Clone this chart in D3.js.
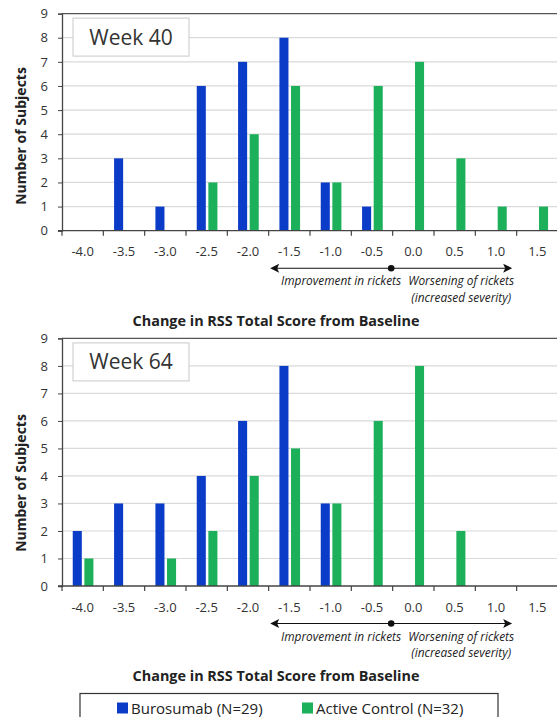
<!DOCTYPE html>
<html>
<head>
<meta charset="utf-8">
<script src="https://cdn.jsdelivr.net/npm/d3@7"></script>
<style>
  html, body { margin: 0; padding: 0; background: #fff; }
  svg { display: block; font-family: "Open Sans", "Noto Sans", sans-serif; }
</style>
</head>
<body>
<svg id="chart" width="557" height="717"></svg>
<script>
// Change in RSS total score categories (x axis)
const categories = ["-4.0", "-3.5", "-3.0", "-2.5", "-2.0", "-1.5", "-1.0", "-0.5", "0.0", "0.5", "1.0", "1.5"];
const yTicks = [0, 1, 2, 3, 4, 5, 6, 7, 8, 9];

// Number of subjects per category, Week 40
const week40Burosumab     = [0, 3, 1, 6, 7, 8, 2, 1, 0, 0, 0, 0];
const week40ActiveControl = [0, 0, 0, 2, 4, 6, 2, 6, 7, 3, 1, 1];

// Number of subjects per category, Week 64
const week64Burosumab     = [2, 3, 3, 4, 6, 8, 3, 0, 0, 0, 0, 0];
const week64ActiveControl = [1, 0, 1, 2, 4, 5, 3, 6, 8, 2, 0, 0];

const seriesNames = ["Burosumab (N=29)", "Active Control (N=32)"];
const seriesColors = ["#0b3cc8", "#1db05a"];

const svg = d3.select("#chart");

function drawPanel(cfg) {
  const { top, bottom, left, right, label, blue, green, labelCenterY } = cfg;
  const g = svg.append("g");

  const x = d3.scaleBand().domain(categories).range([left, right]).padding(0);
  const y = d3.scaleLinear().domain([0, 9]).range([bottom, top]);
  const bw = x.bandwidth();
  const xIn = d3.scaleBand().domain([0, 1])
    .range([bw * 0.26, bw * 0.76]).paddingInner(0.22);

  // horizontal gridlines
  g.append("g").selectAll("line")
    .data(yTicks.filter(d => d > 0 && d < 9))
    .join("line")
    .attr("x1", left).attr("x2", right + 5)
    .attr("y1", d => y(d)).attr("y2", d => y(d))
    .attr("stroke", "#dadada").attr("stroke-width", 1.2);

  // top frame line
  g.append("line")
    .attr("x1", left).attr("x2", right + 5)
    .attr("y1", y(9)).attr("y2", y(9))
    .attr("stroke", "#555").attr("stroke-width", 1.4);

  // bars
  const rows = categories.map((c, i) => ({ c, vals: [blue[i], green[i]] }));
  const grp = g.append("g").selectAll("g").data(rows).join("g")
    .attr("transform", d => `translate(${x(d.c)},0)`);
  grp.selectAll("rect")
    .data(d => d.vals.map((v, k) => ({ v, k })).filter(e => e.v > 0))
    .join("rect")
    .attr("x", d => xIn(d.k))
    .attr("width", xIn.bandwidth())
    .attr("y", d => y(d.v))
    .attr("height", d => y(0) - y(d.v))
    .attr("fill", d => seriesColors[d.k]);

  // y axis
  const yAxis = g.append("g")
    .attr("transform", `translate(${left},0)`)
    .call(d3.axisLeft(y).tickValues(yTicks).tickSize(4).tickPadding(10));
  yAxis.select(".domain").attr("stroke", "#444").attr("stroke-width", 1.3);
  yAxis.selectAll(".tick line").attr("stroke", "#444");
  yAxis.selectAll(".tick text")
    .attr("font-size", 13).attr("fill", "#333")
    .attr("font-family", "'Open Sans', sans-serif");

  // x axis: ticks at category boundaries, labels centred in each band
  const bounds = categories.map(c => x(c)).concat([right]);
  const xg = g.append("g");
  xg.append("line")
    .attr("x1", left - 4).attr("x2", right + 5)
    .attr("y1", y(0)).attr("y2", y(0))
    .attr("stroke", "#444").attr("stroke-width", 1.3);
  xg.selectAll("line.tk").data(bounds).join("line").attr("class", "tk")
    .attr("x1", d => d).attr("x2", d => d)
    .attr("y1", y(0)).attr("y2", y(0) + 5)
    .attr("stroke", "#444").attr("stroke-width", 1.2);
  xg.selectAll("text").data(categories).join("text")
    .attr("x", d => x(d) + bw / 2)
    .attr("y", y(0) + 25.5)
    .attr("text-anchor", "middle")
    .attr("font-size", 13).attr("fill", "#333")
    .text(d => d);

  // y axis title
  g.append("text")
    .attr("transform", `translate(25.5,${labelCenterY}) rotate(-90)`)
    .attr("text-anchor", "middle")
    .attr("font-size", 14).attr("font-weight", "bold").attr("fill", "#222")
    .text("Number of Subjects");

  // week label box
  g.append("rect")
    .attr("x", 73).attr("y", top + 4.5).attr("width", 116).attr("height", 38)
    .attr("fill", "#fff").attr("stroke", "#c9c9c9").attr("stroke-width", 1);
  g.append("text")
    .attr("x", 131).attr("y", top + 31)
    .attr("text-anchor", "middle")
    .attr("font-size", 21).attr("fill", "#333")
    .text(label);

  // direction arrow below the axis
  const ay = y(0) + 37.5;
  const ax0 = x("-1.5") + 1.5, ax1 = x("1.5") - 4.5, axMid = x("0.0") - 1.5;
  g.append("line")
    .attr("x1", ax0 + 6).attr("x2", ax1 - 6)
    .attr("y1", ay).attr("y2", ay)
    .attr("stroke", "#111").attr("stroke-width", 1.1);
  g.append("path")
    .attr("d", `M${ax0},${ay} L${ax0 + 9},${ay - 4.5} L${ax0 + 7},${ay} L${ax0 + 9},${ay + 4.5} Z`)
    .attr("fill", "#111");
  g.append("path")
    .attr("d", `M${ax1},${ay} L${ax1 - 9},${ay - 4.5} L${ax1 - 7},${ay} L${ax1 - 9},${ay + 4.5} Z`)
    .attr("fill", "#111");
  g.append("circle").attr("cx", axMid).attr("cy", ay).attr("r", 3.3).attr("fill", "#111");

  g.append("text")
    .attr("x", axMid + 10).attr("y", ay + 17)
    .attr("text-anchor", "end")
    .attr("font-size", 11.9).attr("font-style", "italic").attr("fill", "#222")
    .text("Improvement in rickets");
  g.append("text")
    .attr("x", ax1 + 2).attr("y", ay + 17)
    .attr("text-anchor", "end")
    .attr("font-size", 11.9).attr("font-style", "italic").attr("fill", "#222")
    .text("Worsening of rickets");
  g.append("text")
    .attr("x", ax1 - 1).attr("y", ay + 33.5)
    .attr("text-anchor", "end")
    .attr("font-size", 11.9).attr("font-style", "italic").attr("fill", "#222")
    .text("(increased severity)");

  // x axis title
  g.append("text")
    .attr("x", 276).attr("y", ay + 57.5)
    .attr("text-anchor", "middle")
    .attr("font-size", 14.4).attr("font-weight", "bold").attr("fill", "#222")
    .text("Change in RSS Total Score from Baseline");
}

drawPanel({
  top: 13.6, bottom: 230.7, left: 62, right: 558,
  label: "Week 40", blue: week40Burosumab, green: week40ActiveControl,
  labelCenterY: 136
});

drawPanel({
  top: 338.4, bottom: 586, left: 62, right: 558,
  label: "Week 64", blue: week64Burosumab, green: week64ActiveControl,
  labelCenterY: 483
});

// legend
const legend = svg.append("g");
legend.append("rect")
  .attr("x", 80).attr("y", 693.5).attr("width", 418).attr("height", 40)
  .attr("fill", "#fff").attr("stroke", "#333").attr("stroke-width", 1.2);
const legendX = [117, 302];
seriesNames.forEach((name, i) => {
  legend.append("rect")
    .attr("x", legendX[i]).attr("y", 702.5).attr("width", 11).attr("height", 11)
    .attr("fill", seriesColors[i]);
  legend.append("text")
    .attr("x", legendX[i] + 14).attr("y", 713.5)
    .attr("font-size", 15).attr("fill", "#222")
    .text(name);
});
</script>
</body>
</html>
